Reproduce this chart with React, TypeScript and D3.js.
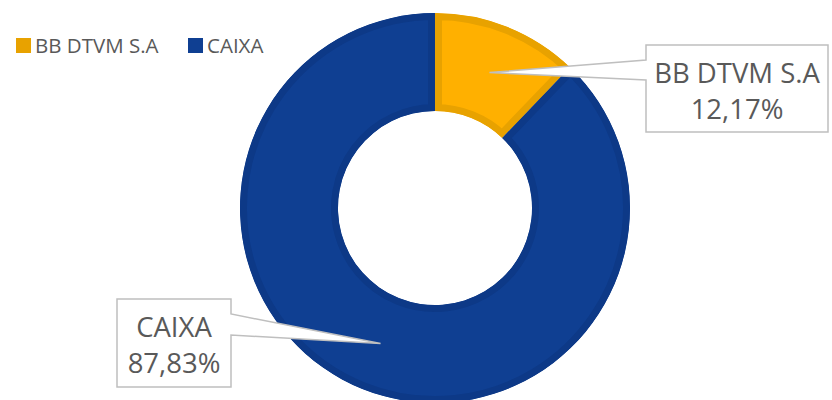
import { useRef, useEffect } from "react";
import * as d3 from "d3";

const categories = ["BB DTVM S.A", "CAIXA"];
const values = [12.17, 87.83];
const labels = ["12,17%", "87,83%"];
const fills = ["#FFB000", "#0F3F92"];
const strokes = ["#E8A200", "#0D3987"];

const W = 832;
const H = 400;

const App = () => {
  const svgRef = useRef(null);

  useEffect(() => {
    const svg = d3.select(svgRef.current);
    svg.selectAll("*").remove();

    const cx = 435;
    const cy = 208;
    const outer = 195;
    const inner = 97;
    const band = 7; // inner border width of each slice

    const data = categories.map((c, i) => ({ name: c, value: values[i], label: labels[i], i }));

    const pie = d3.pie().value((d) => d.value).sort(null);
    const arc = d3.arc().innerRadius(inner).outerRadius(outer);
    const arcs = pie(data);

    const defs = svg.append("defs");
    arcs.forEach((a, k) => {
      defs
        .append("clipPath")
        .attr("id", `slice-clip-${k}`)
        .append("path")
        .attr("d", arc(a));
    });

    const g = svg.append("g").attr("transform", `translate(${cx},${cy})`);

    // border drawn inside each slice (stroke clipped to its own shape)
    g.selectAll("path.slice")
      .data(arcs)
      .enter()
      .append("path")
      .attr("class", "slice")
      .attr("d", arc)
      .attr("clip-path", (d, k) => `url(#slice-clip-${k})`)
      .attr("fill", (d) => fills[d.data.i])
      .attr("stroke", (d) => strokes[d.data.i])
      .attr("stroke-width", band * 2)
      .attr("stroke-linejoin", "miter");

    const font = "'Open Sans', sans-serif";
    const textColor = "#595959";

    // callouts
    const boxes = [
      { x0: 646, y0: 45, x1: 828, y1: 132, side: "left", b0: 60, b1: 80 },
      { x0: 117, y0: 299, x1: 231, y1: 387, side: "right", b0: 314, b1: 335 },
    ];

    arcs.forEach((a, k) => {
      const bx = boxes[k];
      const [tx, ty] = arc.centroid(a);
      const tipX = cx + tx;
      const tipY = cy + ty;
      let pts;
      if (bx.side === "left") {
        pts = [
          [bx.x0, bx.y0],
          [bx.x1, bx.y0],
          [bx.x1, bx.y1],
          [bx.x0, bx.y1],
          [bx.x0, bx.b1],
          [tipX, tipY],
          [bx.x0, bx.b0],
        ];
      } else {
        pts = [
          [bx.x0, bx.y0],
          [bx.x1, bx.y0],
          [bx.x1, bx.b0],
          [tipX, tipY],
          [bx.x1, bx.b1],
          [bx.x1, bx.y1],
          [bx.x0, bx.y1],
        ];
      }
      svg
        .append("path")
        .attr("d", "M" + pts.map((p) => p.join(",")).join("L") + "Z")
        .attr("fill", "#FFFFFF")
        .attr("stroke", "#BFBFBF")
        .attr("stroke-width", 1.5);

      const mx = (bx.x0 + bx.x1) / 2;
      const t = svg
        .append("text")
        .attr("font-family", font)
        .attr("font-size", 27.5)
        .attr("fill", textColor)
        .attr("text-anchor", "middle");
      t.append("tspan").attr("x", mx).attr("y", bx.y0 + 38).text(a.data.name);
      t.append("tspan").attr("x", mx).attr("y", bx.y0 + 74).text(a.data.label);
    });

    // legend
    const legendX = [16, 188];
    const leg = svg.append("g");
    data.forEach((d, i) => {
      leg
        .append("rect")
        .attr("x", legendX[i])
        .attr("y", 38)
        .attr("width", 15)
        .attr("height", 15)
        .attr("fill", i === 0 ? strokes[0] : fills[1]);
      leg
        .append("text")
        .attr("x", legendX[i] + 19)
        .attr("y", 53)
        .attr("font-family", font)
        .attr("font-size", 20.5)
        .attr("fill", textColor)
        .text(d.name);
    });
  }, []);

  return (
    <svg
      ref={svgRef}
      width={W}
      height={H}
      style={{ position: "absolute", left: 0, top: 0, background: "#fff" }}
    ></svg>
  );
};

export default App;
